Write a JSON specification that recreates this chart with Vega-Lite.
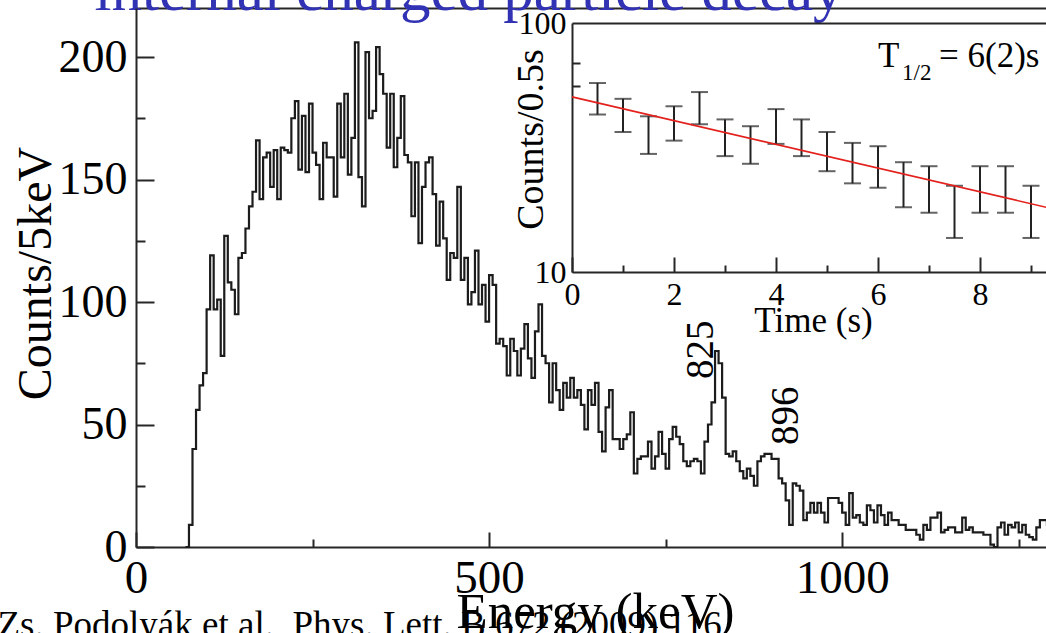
{
  "$schema": "https://vega.github.io/schema/vega-lite/v6.json",
  "width": 918,
  "height": 539,
  "autosize": {"type": "none"},
  "padding": {"left": 136, "top": 8, "right": -8, "bottom": 86},
  "background": "white",
  "config": {
    "view": {"stroke": null},
    "font": "Liberation Serif",
    "axis": {
      "grid": false,
      "domainColor": "#262626",
      "domainWidth": 2,
      "tickColor": "#262626",
      "tickWidth": 2,
      "labelColor": "#000000",
      "titleColor": "#000000",
      "labelFont": "Liberation Serif",
      "titleFont": "Liberation Serif",
      "titleFontWeight": "normal",
      "labelFlush": false,
      "labelOverlap": false
    }
  },
  "datasets": {
    "spectrum": [
      {"energy": 70, "counts": 0}, {"energy": 75, "counts": 9}, {"energy": 80, "counts": 40}, {"energy": 85, "counts": 56},
      {"energy": 90, "counts": 66}, {"energy": 95, "counts": 71}, {"energy": 100, "counts": 97}, {"energy": 105, "counts": 119},
      {"energy": 110, "counts": 97}, {"energy": 115, "counts": 101}, {"energy": 120, "counts": 78}, {"energy": 125, "counts": 127},
      {"energy": 130, "counts": 108}, {"energy": 135, "counts": 105}, {"energy": 140, "counts": 95}, {"energy": 145, "counts": 118},
      {"energy": 150, "counts": 120}, {"energy": 155, "counts": 130}, {"energy": 160, "counts": 139}, {"energy": 165, "counts": 145},
      {"energy": 170, "counts": 166}, {"energy": 175, "counts": 142}, {"energy": 180, "counts": 159}, {"energy": 185, "counts": 161},
      {"energy": 190, "counts": 147}, {"energy": 195, "counts": 162}, {"energy": 200, "counts": 142}, {"energy": 205, "counts": 163},
      {"energy": 210, "counts": 162}, {"energy": 215, "counts": 161}, {"energy": 220, "counts": 175}, {"energy": 225, "counts": 182},
      {"energy": 230, "counts": 154}, {"energy": 235, "counts": 176}, {"energy": 240, "counts": 153}, {"energy": 245, "counts": 181},
      {"energy": 250, "counts": 161}, {"energy": 255, "counts": 156}, {"energy": 260, "counts": 142}, {"energy": 265, "counts": 165},
      {"energy": 270, "counts": 159}, {"energy": 275, "counts": 159}, {"energy": 280, "counts": 143}, {"energy": 285, "counts": 181},
      {"energy": 290, "counts": 159}, {"energy": 295, "counts": 185}, {"energy": 300, "counts": 152}, {"energy": 305, "counts": 167},
      {"energy": 310, "counts": 206}, {"energy": 315, "counts": 151}, {"energy": 320, "counts": 139}, {"energy": 325, "counts": 202},
      {"energy": 330, "counts": 175}, {"energy": 335, "counts": 178}, {"energy": 340, "counts": 204}, {"energy": 345, "counts": 193},
      {"energy": 350, "counts": 185}, {"energy": 355, "counts": 163}, {"energy": 360, "counts": 185}, {"energy": 365, "counts": 155},
      {"energy": 370, "counts": 167}, {"energy": 375, "counts": 184}, {"energy": 380, "counts": 160}, {"energy": 385, "counts": 157},
      {"energy": 390, "counts": 135}, {"energy": 395, "counts": 157}, {"energy": 400, "counts": 124}, {"energy": 405, "counts": 147},
      {"energy": 410, "counts": 157}, {"energy": 415, "counts": 159}, {"energy": 420, "counts": 144}, {"energy": 425, "counts": 123},
      {"energy": 430, "counts": 141}, {"energy": 435, "counts": 126}, {"energy": 440, "counts": 109}, {"energy": 445, "counts": 120},
      {"energy": 450, "counts": 118}, {"energy": 455, "counts": 147}, {"energy": 460, "counts": 109}, {"energy": 465, "counts": 118},
      {"energy": 470, "counts": 99}, {"energy": 475, "counts": 104}, {"energy": 480, "counts": 121}, {"energy": 485, "counts": 99},
      {"energy": 490, "counts": 107}, {"energy": 495, "counts": 92}, {"energy": 500, "counts": 111}, {"energy": 505, "counts": 107},
      {"energy": 510, "counts": 83}, {"energy": 515, "counts": 85}, {"energy": 520, "counts": 82}, {"energy": 525, "counts": 70},
      {"energy": 530, "counts": 85}, {"energy": 535, "counts": 80}, {"energy": 540, "counts": 70}, {"energy": 545, "counts": 81},
      {"energy": 550, "counts": 91}, {"energy": 555, "counts": 77}, {"energy": 560, "counts": 69}, {"energy": 565, "counts": 88},
      {"energy": 570, "counts": 99}, {"energy": 575, "counts": 78}, {"energy": 580, "counts": 75}, {"energy": 585, "counts": 59},
      {"energy": 590, "counts": 75}, {"energy": 595, "counts": 64}, {"energy": 600, "counts": 56}, {"energy": 605, "counts": 67},
      {"energy": 610, "counts": 61}, {"energy": 615, "counts": 69}, {"energy": 620, "counts": 61}, {"energy": 625, "counts": 64},
      {"energy": 630, "counts": 58}, {"energy": 635, "counts": 48}, {"energy": 640, "counts": 64}, {"energy": 645, "counts": 58},
      {"energy": 650, "counts": 67}, {"energy": 655, "counts": 47}, {"energy": 660, "counts": 39}, {"energy": 665, "counts": 57},
      {"energy": 670, "counts": 64}, {"energy": 675, "counts": 44}, {"energy": 680, "counts": 44}, {"energy": 685, "counts": 40},
      {"energy": 690, "counts": 44}, {"energy": 695, "counts": 46}, {"energy": 700, "counts": 55}, {"energy": 705, "counts": 30},
      {"energy": 710, "counts": 36}, {"energy": 715, "counts": 37}, {"energy": 720, "counts": 37}, {"energy": 725, "counts": 43},
      {"energy": 730, "counts": 32}, {"energy": 735, "counts": 37}, {"energy": 740, "counts": 47}, {"energy": 745, "counts": 38},
      {"energy": 750, "counts": 32}, {"energy": 755, "counts": 44}, {"energy": 760, "counts": 49}, {"energy": 765, "counts": 45},
      {"energy": 770, "counts": 42}, {"energy": 775, "counts": 35}, {"energy": 780, "counts": 33}, {"energy": 785, "counts": 35},
      {"energy": 790, "counts": 36}, {"energy": 795, "counts": 35}, {"energy": 800, "counts": 30}, {"energy": 805, "counts": 43},
      {"energy": 810, "counts": 50}, {"energy": 815, "counts": 59}, {"energy": 820, "counts": 80}, {"energy": 825, "counts": 75},
      {"energy": 830, "counts": 61}, {"energy": 835, "counts": 38}, {"energy": 840, "counts": 37}, {"energy": 845, "counts": 39},
      {"energy": 850, "counts": 35}, {"energy": 855, "counts": 31}, {"energy": 860, "counts": 28}, {"energy": 865, "counts": 32},
      {"energy": 870, "counts": 29}, {"energy": 875, "counts": 25}, {"energy": 880, "counts": 35}, {"energy": 885, "counts": 37},
      {"energy": 890, "counts": 38}, {"energy": 895, "counts": 38}, {"energy": 900, "counts": 36}, {"energy": 905, "counts": 36},
      {"energy": 910, "counts": 28}, {"energy": 915, "counts": 26}, {"energy": 920, "counts": 19}, {"energy": 925, "counts": 9},
      {"energy": 930, "counts": 26}, {"energy": 935, "counts": 25}, {"energy": 940, "counts": 23}, {"energy": 945, "counts": 11},
      {"energy": 950, "counts": 14}, {"energy": 955, "counts": 18}, {"energy": 960, "counts": 14}, {"energy": 965, "counts": 18},
      {"energy": 970, "counts": 14}, {"energy": 975, "counts": 10}, {"energy": 980, "counts": 20}, {"energy": 985, "counts": 20},
      {"energy": 990, "counts": 20}, {"energy": 995, "counts": 18}, {"energy": 1000, "counts": 14}, {"energy": 1005, "counts": 9},
      {"energy": 1010, "counts": 22}, {"energy": 1015, "counts": 12}, {"energy": 1020, "counts": 13}, {"energy": 1025, "counts": 10},
      {"energy": 1030, "counts": 9}, {"energy": 1035, "counts": 17}, {"energy": 1040, "counts": 15}, {"energy": 1045, "counts": 10},
      {"energy": 1050, "counts": 17}, {"energy": 1055, "counts": 13}, {"energy": 1060, "counts": 9}, {"energy": 1065, "counts": 14},
      {"energy": 1070, "counts": 11}, {"energy": 1075, "counts": 11}, {"energy": 1080, "counts": 9}, {"energy": 1085, "counts": 9},
      {"energy": 1090, "counts": 7}, {"energy": 1095, "counts": 7}, {"energy": 1100, "counts": 7}, {"energy": 1105, "counts": 5},
      {"energy": 1110, "counts": 3}, {"energy": 1115, "counts": 9}, {"energy": 1120, "counts": 7}, {"energy": 1125, "counts": 12},
      {"energy": 1130, "counts": 12}, {"energy": 1135, "counts": 14}, {"energy": 1140, "counts": 6}, {"energy": 1145, "counts": 7},
      {"energy": 1150, "counts": 8}, {"energy": 1155, "counts": 8}, {"energy": 1160, "counts": 6}, {"energy": 1165, "counts": 6},
      {"energy": 1170, "counts": 12}, {"energy": 1175, "counts": 7}, {"energy": 1180, "counts": 8}, {"energy": 1185, "counts": 6},
      {"energy": 1190, "counts": 6}, {"energy": 1195, "counts": 6}, {"energy": 1200, "counts": 5}, {"energy": 1205, "counts": 5},
      {"energy": 1210, "counts": 1}, {"energy": 1215, "counts": 0}, {"energy": 1220, "counts": 8}, {"energy": 1225, "counts": 10},
      {"energy": 1230, "counts": 5}, {"energy": 1235, "counts": 9}, {"energy": 1240, "counts": 8}, {"energy": 1245, "counts": 10},
      {"energy": 1250, "counts": 6}, {"energy": 1255, "counts": 9}, {"energy": 1260, "counts": 5}, {"energy": 1265, "counts": 4},
      {"energy": 1270, "counts": 3}, {"energy": 1275, "counts": 8}, {"energy": 1280, "counts": 11}, {"energy": 1285, "counts": 11},
      {"energy": 1290, "counts": 9}, {"energy": 1295, "counts": 9}
    ],
    "peaks": [
      {"energy": 825, "counts": 80, "label": "825"},
      {"energy": 896, "counts": 38, "label": "896"}
    ],
    "decay": [
      {"time": 0.5, "lo": 42.9, "hi": 57.4}, {"time": 1.0, "lo": 36.5, "hi": 49.6}, {"time": 1.5, "lo": 29.8, "hi": 42.2},
      {"time": 2.0, "lo": 33.7, "hi": 46.3}, {"time": 2.5, "lo": 39.2, "hi": 52.8}, {"time": 3.0, "lo": 29.2, "hi": 41.0},
      {"time": 3.5, "lo": 27.2, "hi": 38.5}, {"time": 4.0, "lo": 32.7, "hi": 45.1}, {"time": 4.5, "lo": 29.2, "hi": 41.0},
      {"time": 5.0, "lo": 25.4, "hi": 36.5}, {"time": 5.5, "lo": 22.7, "hi": 33.0}, {"time": 6.0, "lo": 21.8, "hi": 32.0},
      {"time": 6.5, "lo": 18.2, "hi": 27.6}, {"time": 7.0, "lo": 17.3, "hi": 26.6}, {"time": 7.5, "lo": 13.7, "hi": 22.2},
      {"time": 8.0, "lo": 17.3, "hi": 26.6}, {"time": 8.5, "lo": 17.3, "hi": 26.6}, {"time": 9.0, "lo": 13.7, "hi": 22.2}
    ],
    "fit": [
      {"time": 0, "counts": 50.5},
      {"time": 9.5, "counts": 17.8}
    ],
    "halflife": [
      {"symbol": "T", "sub": "1/2", "result": "= 6(2)s"}
    ]
  },
  "resolve": {"scale": {"x": "independent", "y": "independent"}},
  "layer": [
    {
      "resolve": {"axis": {"x": "independent", "y": "independent"}},
      "layer": [
        {
          "data": {"name": "spectrum"},
          "mark": {"type": "line", "interpolate": "step-after", "color": "#1c1c1c", "strokeWidth": 2.2},
          "encoding": {
            "x": {
              "field": "energy", "type": "quantitative",
              "scale": {"domain": [0, 1300], "nice": false, "zero": false},
              "axis": {
                "orient": "bottom",
                "values": [0, 250, 500, 750, 1000, 1250],
                "format": "d",
                "labelExpr": "datum.value % 500 === 0 ? datum.label : ''",
                "tickSize": {"condition": {"test": "datum.value % 500 === 0", "value": -15}, "value": -8},
                "labelPadding": 23,
                "labelFontSize": 47,
                "title": "Energy (keV)",
                "titleFontSize": 51,
                "titleX": 459,
                "titleY": 80,
                "titleAlign": "center",
                "titleBaseline": "alphabetic"
              }
            },
            "y": {
              "field": "counts", "type": "quantitative",
              "scale": {"domain": [0, 220], "nice": false},
              "axis": {
                "orient": "left",
                "values": [0, 25, 50, 75, 100, 125, 150, 175, 200],
                "labelExpr": "datum.value % 50 === 0 ? datum.label : ''",
                "tickSize": {"condition": {"test": "datum.value % 50 === 0", "value": -18}, "value": -9},
                "labelPadding": 27,
                "labelFontSize": 46,
                "title": "Counts/5keV",
                "titleFontSize": 48,
                "titleAngle": 270,
                "titleX": -86,
                "titleY": 265,
                "titleAlign": "center",
                "titleBaseline": "alphabetic"
              }
            }
          }
        },
        {
          "data": {"name": "peaks"},
          "transform": [{"filter": "datum.label === '825'"}],
          "mark": {"type": "text", "angle": 270, "align": "left", "baseline": "alphabetic", "fontSize": 39, "dx": -28, "dy": -6, "color": "#000000"},
          "encoding": {
            "x": {
              "field": "energy", "type": "quantitative",
              "axis": {
                "orient": "top",
                "ticks": false,
                "labels": false,
                "domain": true,
                "title": "internal charged particle decay",
                "titleColor": "#3232b4",
                "titleFontSize": 61,
                "titleX": -42,
                "titleY": 1,
                "titleAlign": "left",
                "titleBaseline": "alphabetic"
              }
            },
            "y": {"field": "counts", "type": "quantitative", "axis": null},
            "text": {"field": "label"}
          }
        },
        {
          "data": {"name": "peaks"},
          "transform": [{"filter": "datum.label === '896'"}],
          "mark": {"type": "text", "angle": 270, "align": "left", "baseline": "top", "fontSize": 39, "dx": 9, "dy": -2, "color": "#000000"},
          "encoding": {
            "x": {
              "field": "energy", "type": "quantitative",
              "axis": {
                "orient": "bottom",
                "ticks": false,
                "labels": false,
                "domain": false,
                "title": "Zs. Podolyák et al., Phys. Lett. B 672 (2009) 116",
                "titleFontSize": 37,
                "titleX": -139,
                "titleY": 89,
                "titleAlign": "left",
                "titleBaseline": "alphabetic"
              }
            },
            "y": {"field": "counts", "type": "quantitative", "axis": null},
            "text": {"field": "label"}
          }
        }
      ]
    },
    {
      "resolve": {"axis": {"x": "independent", "y": "independent"}},
      "layer": [
        {
          "data": {"name": "decay"},
          "mark": {"type": "errorbar", "color": "#222222", "thickness": 2, "ticks": {"size": 17}},
          "encoding": {
            "x": {
              "field": "time", "type": "quantitative",
              "scale": {"domain": [0, 9.5], "nice": false, "zero": false, "range": [436, 920.5]},
              "axis": {
                "orient": "bottom",
                "offset": -275,
                "values": [0, 1, 2, 3, 4, 5, 6, 7, 8, 9],
                "labelExpr": "datum.value % 2 === 0 ? datum.label : ''",
                "tickSize": {"condition": {"test": "datum.value % 2 === 0", "value": -15}, "value": -7},
                "labelPadding": 22,
                "labelFontSize": 32,
                "title": "Time (s)",
                "titleFontSize": 35,
                "titleX": 677,
                "titleY": 59,
                "titleAlign": "center",
                "titleBaseline": "alphabetic"
              }
            },
            "y": {
              "field": "lo", "type": "quantitative",
              "scale": {"type": "log", "domain": [10, 100], "nice": false, "range": [264, 15]},
              "axis": {
                "orient": "left",
                "offset": -436,
                "values": [10, 56, 69, 100],
                "labelExpr": "datum.value === 10 || datum.value === 100 ? datum.value + '' : ''",
                "tickSize": {"condition": {"test": "datum.value === 10 || datum.value === 100", "value": 0}, "value": -8},
                "labelPadding": 6,
                "labelFontSize": 32,
                "title": "Counts/0.5s",
                "titleFontSize": 38,
                "titleAngle": 270,
                "titleX": -30,
                "titleY": 131,
                "titleAlign": "center",
                "titleBaseline": "alphabetic"
              }
            },
            "y2": {"field": "hi"}
          }
        },
        {
          "data": {"name": "fit"},
          "mark": {"type": "line", "color": "#e3201b", "strokeWidth": 1.6},
          "encoding": {
            "x": {
              "field": "time", "type": "quantitative",
              "axis": {"orient": "top", "offset": -15, "ticks": false, "labels": false, "domain": true, "title": null}
            },
            "y": {"field": "counts", "type": "quantitative", "axis": null}
          }
        },
        {
          "data": {"name": "halflife"},
          "mark": {"type": "text", "align": "left", "baseline": "alphabetic", "fontSize": 35, "color": "#000000"},
          "encoding": {
            "x": {"datum": 6.0, "type": "quantitative", "axis": null},
            "y": {"datum": 66.5, "type": "quantitative", "axis": null},
            "text": {"field": "symbol"}
          }
        },
        {
          "data": {"name": "halflife"},
          "mark": {"type": "text", "align": "left", "baseline": "alphabetic", "fontSize": 23, "dx": 24, "dy": 13, "color": "#000000"},
          "encoding": {
            "x": {"datum": 6.0, "type": "quantitative", "axis": null},
            "y": {"datum": 66.5, "type": "quantitative", "axis": null},
            "text": {"field": "sub"}
          }
        },
        {
          "data": {"name": "halflife"},
          "mark": {"type": "text", "align": "left", "baseline": "alphabetic", "fontSize": 35, "dx": 61, "color": "#000000"},
          "encoding": {
            "x": {"datum": 6.0, "type": "quantitative", "axis": null},
            "y": {"datum": 66.5, "type": "quantitative", "axis": null},
            "text": {"field": "result"}
          }
        }
      ]
    }
  ]
}
